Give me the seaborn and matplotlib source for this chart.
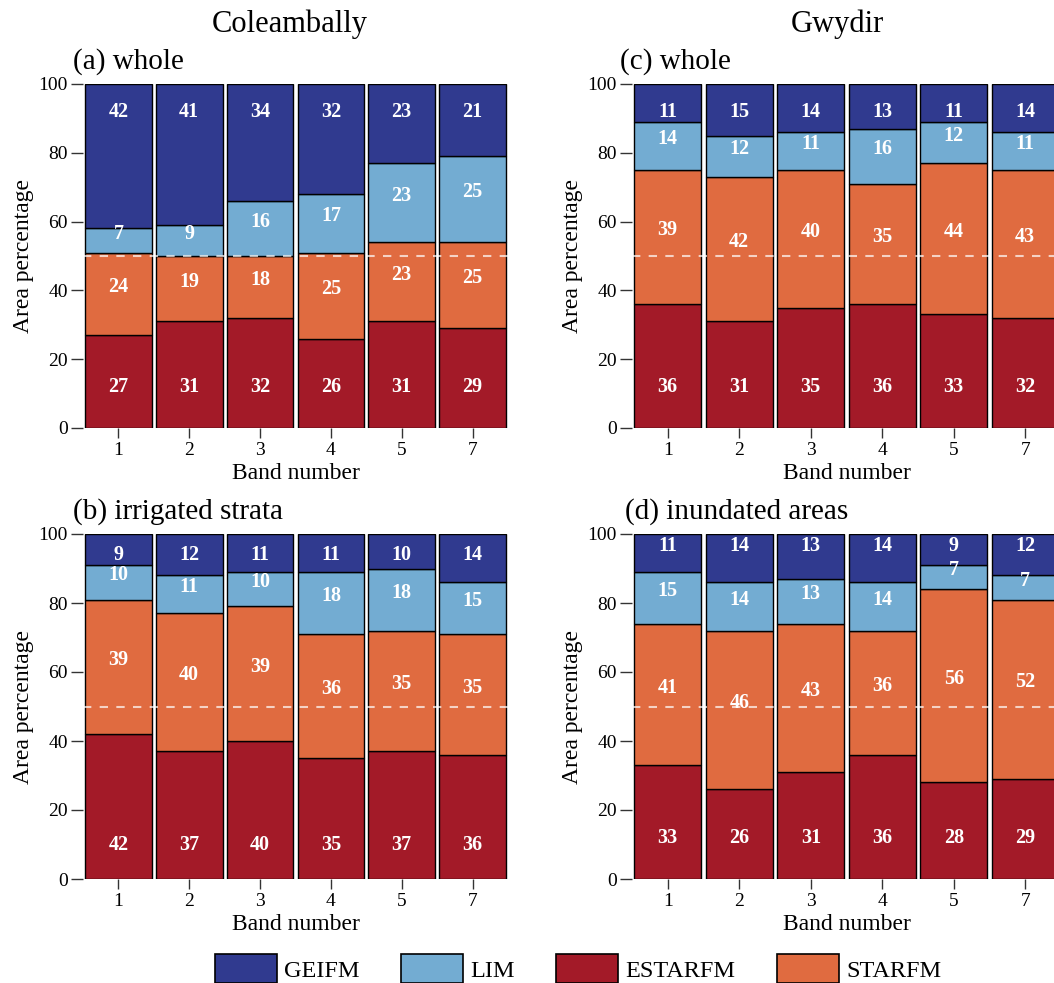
import matplotlib
matplotlib.use("Agg")
import matplotlib.pyplot as plt
from matplotlib.patches import Patch
import seaborn as sns

sns.set_style("ticks")
plt.rcParams["font.family"] = ["Liberation Serif", "DejaVu Serif"]
plt.rcParams.update({"text.color": "black", "axes.labelcolor": "black",
                     "xtick.color": "black", "ytick.color": "black"})

# Landsat bands shown on the x axis
bands = ["1", "2", "3", "4", "5", "7"]

# Stacking order, bottom to top
methods = ["ESTARFM", "STARFM", "LIM", "GEIFM"]
legend_order = ["GEIFM", "LIM", "ESTARFM", "STARFM"]
palette = {"GEIFM": "#303a8f", "LIM": "#73acd2",
           "ESTARFM": "#a31a28", "STARFM": "#e06b40"}

# Coleambally, whole site
cole_whole_estarfm = [27, 31, 32, 26, 31, 29]
cole_whole_starfm = [24, 19, 18, 25, 23, 25]
cole_whole_lim = [7, 9, 16, 17, 23, 25]
cole_whole_geifm = [42, 41, 34, 32, 23, 21]

# Coleambally, irrigated strata
cole_irr_estarfm = [42, 37, 40, 35, 37, 36]
cole_irr_starfm = [39, 40, 39, 36, 35, 35]
cole_irr_lim = [10, 11, 10, 18, 18, 15]
cole_irr_geifm = [9, 12, 11, 11, 10, 14]

# Gwydir, whole site
gwy_whole_estarfm = [36, 31, 35, 36, 33, 32]
gwy_whole_starfm = [39, 42, 40, 35, 44, 43]
gwy_whole_lim = [14, 12, 11, 16, 12, 11]
gwy_whole_geifm = [11, 15, 14, 13, 11, 14]

# Gwydir, inundated areas
gwy_inund_estarfm = [33, 26, 31, 36, 28, 29]
gwy_inund_starfm = [41, 46, 43, 36, 56, 52]
gwy_inund_lim = [15, 14, 13, 14, 7, 7]
gwy_inund_geifm = [11, 14, 13, 14, 9, 12]

W, H = 1054, 983
fig = plt.figure(figsize=(W / 100, H / 100), dpi=100)


def px_rect(left, top, right, bottom):
    return [left / W, 1 - bottom / H, (right - left) / W, (bottom - top) / H]


panels = [
    dict(rect=px_rect(83, 84, 508, 428), label="(a) whole", lx=73, ly=69,
         data=[cole_whole_estarfm, cole_whole_starfm, cole_whole_lim, cole_whole_geifm],
         y_low=12, y_top=92),
    dict(rect=px_rect(83, 534, 508, 879), label="(b) irrigated strata", lx=73, ly=519,
         data=[cole_irr_estarfm, cole_irr_starfm, cole_irr_lim, cole_irr_geifm],
         y_low=10, y_top=94),
    dict(rect=px_rect(632, 84, 1061, 428), label="(c) whole", lx=620, ly=69,
         data=[gwy_whole_estarfm, gwy_whole_starfm, gwy_whole_lim, gwy_whole_geifm],
         y_low=12, y_top=92),
    dict(rect=px_rect(632, 534, 1061, 879), label="(d) inundated areas", lx=625, ly=519,
         data=[gwy_inund_estarfm, gwy_inund_starfm, gwy_inund_lim, gwy_inund_geifm],
         y_low=12, y_top=96.5),
]

for p in panels:
    ax = fig.add_axes(p["rect"])
    base = [0] * len(bands)
    for k, (name, vals) in enumerate(zip(methods, p["data"])):
        sns.barplot(x=bands, y=vals, order=bands, bottom=base, color=palette[name],
                    saturation=1, width=0.94, edgecolor="black", linewidth=1.0, ax=ax)
        for i, v in enumerate(vals):
            if k == 0:
                ty = p["y_low"]
            elif k == len(methods) - 1:
                ty = p["y_top"]
            else:
                ty = base[i] + v / 2 + 2
            ax.text(i, ty, str(v), ha="center", va="center", color="white",
                    fontsize=14.5, fontweight="bold")
        base = [b + v for b, v in zip(base, vals)]

    ax.axhline(50, color="white", alpha=0.7, lw=1.5, ls=(0, (4, 4)), zorder=3)
    ax.set_xlim(-0.5, len(bands) - 0.5)
    ax.set_ylim(0, 100)
    ax.set_yticks([0, 20, 40, 60, 80, 100])
    for s in ax.spines.values():
        s.set_visible(False)
    ax.tick_params(axis="y", direction="out", length=9, width=1, labelsize=14,
                   pad=2, color="#333333")
    ax.tick_params(axis="x", direction="out", length=7, width=1, labelsize=14,
                   pad=3, color="#333333")
    ax.set_xlabel("Band number", fontsize=17, labelpad=3)
    ax.set_ylabel("Area percentage", fontsize=17, labelpad=3)
    fig.text(p["lx"] / W, 1 - p["ly"] / H, p["label"], fontsize=21,
             ha="left", va="baseline")

fig.text(290 / W, 1 - 32 / H, "Coleambally", fontsize=22, ha="center", va="baseline")
fig.text(837 / W, 1 - 32 / H, "Gwydir", fontsize=22, ha="center", va="baseline")

handles = [Patch(facecolor=palette[m], edgecolor="black", linewidth=1.2, label=m)
           for m in legend_order]
fig.legend(handles=handles, loc="lower center", bbox_to_anchor=(578 / W, 0.0),
           ncol=4, frameon=False, fontsize=17.5, handlelength=2.55,
           handleheight=1.45, handletextpad=0.3, columnspacing=1.7,
           borderpad=0.0, borderaxespad=0.0)

fig.savefig("out.png", dpi=100)
